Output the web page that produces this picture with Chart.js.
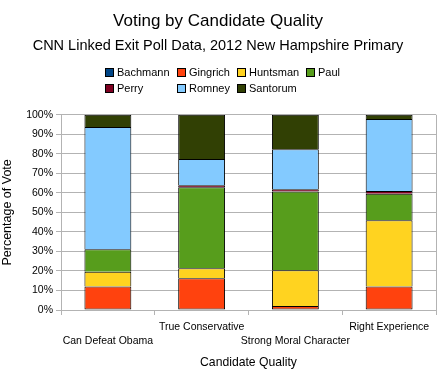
<!DOCTYPE html>
<html>
<head>
<meta charset="utf-8">
<script src="https://cdn.jsdelivr.net/npm/chart.js@4"></script>
<style>
  body { margin: 0; background: #fff; }
  #wrap { position: relative; width: 439px; height: 379px; }
  #legend {
    position: absolute; left: 105px; top: 64px;
    display: grid; grid-template-columns: 72px 60px 69px 50px;
    grid-auto-rows: 16px;
    font-family: 'Liberation Sans', Arial, sans-serif; font-size: 11px; color: #000;
  }
  #legend span { display: flex; align-items: center; white-space: nowrap; }
  #legend i {
    display: inline-block; width: 7px; height: 7px; border: 1px solid #000;
    margin-right: 3px;
  }
</style>
</head>
<body>
<div id="wrap">
  <canvas id="voteChart" width="439" height="379"></canvas>
  <div id="legend"></div>
</div>
<script>
// categories and series (percent of vote)
const qualities = ["Can Defeat Obama", "True Conservative", "Strong Moral Character", "Right Experience"];
const candidates = ["Bachmann", "Gingrich", "Huntsman", "Paul", "Perry", "Romney", "Santorum"];
const colors = ["#004586", "#ff420e", "#ffd320", "#579d1c", "#7e0021", "#83caff", "#314004"];

const bachmann = [0, 0, 0, 0];
const gingrich = [12, 16.3, 2.1, 12.1];
const huntsman = [7.6, 5.1, 18.3, 33.9];
const paul = [11.5, 41.5, 40.3, 13.6];
const perry = [0, 1, 1.2, 1.3];
const romney = [62.6, 13.4, 20.5, 36.9];
const santorum = [6.3, 22.7, 17.6, 2.2];

const series = [bachmann, gingrich, huntsman, paul, perry, romney, santorum];
const yTicks = [0, 10, 20, 30, 40, 50, 60, 70, 80, 90, 100];

const font = "'Liberation Sans', Arial, sans-serif";
const gridColor = "#b3b3b3";

// legend laid out as a grid, like the original
const legend = document.getElementById("legend");
candidates.forEach((name, i) => {
    const item = document.createElement("span");
    const box = document.createElement("i");
    box.style.background = colors[i];
    item.appendChild(box);
    item.appendChild(document.createTextNode(name));
    legend.appendChild(item);
});

// right edge line of the plot area
const frameRight = {
    id: "frameRight",
    afterDraw(chart) {
        const a = chart.chartArea;
        const ctx = chart.ctx;
        ctx.save();
        ctx.strokeStyle = gridColor;
        ctx.lineWidth = 1;
        ctx.beginPath();
        ctx.moveTo(Math.round(a.right) + 0.5, a.top);
        ctx.lineTo(Math.round(a.right) + 0.5, a.bottom);
        ctx.stroke();
        ctx.restore();
    }
};

new Chart(document.getElementById("voteChart"), {
    type: "bar",
    data: {
        labels: qualities,
        datasets: candidates.map((name, i) => ({
            label: name,
            data: series[i],
            backgroundColor: colors[i],
            borderColor: "#000",
            borderWidth: 1,
            // bottom segment keeps its lower edge, the others share borders
            borderSkipped: name === "Gingrich" ? false : "start",
            barPercentage: 0.5,
            categoryPercentage: 1
        }))
    },
    plugins: [frameRight],
    options: {
        responsive: false,
        animation: false,
        layout: { padding: { left: 0, right: 3, top: 0, bottom: 0 } },
        plugins: {
            title: {
                display: true,
                text: "Voting by Candidate Quality",
                color: "#000",
                font: { family: font, size: 17, weight: "normal" },
                padding: { top: 11, bottom: 5 }
            },
            subtitle: {
                display: true,
                text: "CNN Linked Exit Poll Data, 2012 New Hampshire Primary",
                color: "#000",
                font: { family: font, size: 14.5, weight: "normal" },
                padding: { top: 1, bottom: 60 }
            },
            legend: { display: false },
            tooltip: { enabled: false }
        },
        scales: {
            x: {
                stacked: true,
                afterFit(scale) { scale.height = 69; },
                grid: {
                    display: true,
                    offset: true,
                    drawOnChartArea: false,
                    drawTicks: true,
                    tickLength: 5,
                    color: gridColor
                },
                border: { color: gridColor },
                ticks: {
                    color: "#000",
                    autoSkip: false,
                    maxRotation: 0,
                    minRotation: 0,
                    padding: 5,
                    font: { family: font, size: 10.5, lineHeight: 1.33 },
                    callback(value, index) {
                        const label = qualities[index];
                        return index % 2 === 0 ? ["", label] : [label];
                    }
                },
                title: {
                    display: true,
                    text: "Candidate Quality",
                    color: "#000",
                    font: { family: font, size: 12.2 },
                    padding: { top: 0, bottom: 9 }
                }
            },
            y: {
                stacked: true,
                min: 0,
                max: 100,
                afterFit(scale) { scale.width = 61; },
                afterBuildTicks(scale) {
                    scale.ticks = yTicks.map(v => ({ value: v }));
                },
                grid: {
                    color: gridColor,
                    tickLength: 5
                },
                border: { color: gridColor },
                ticks: {
                    color: "#000",
                    padding: 3,
                    font: { family: font, size: 10.5 },
                    callback: v => v + "%"
                },
                title: {
                    display: true,
                    text: "Percentage of Vote",
                    color: "#000",
                    font: { family: font, size: 12.5 },
                    padding: { top: 0, bottom: 0 }
                }
            }
        }
    }
});
</script>
</body>
</html>
